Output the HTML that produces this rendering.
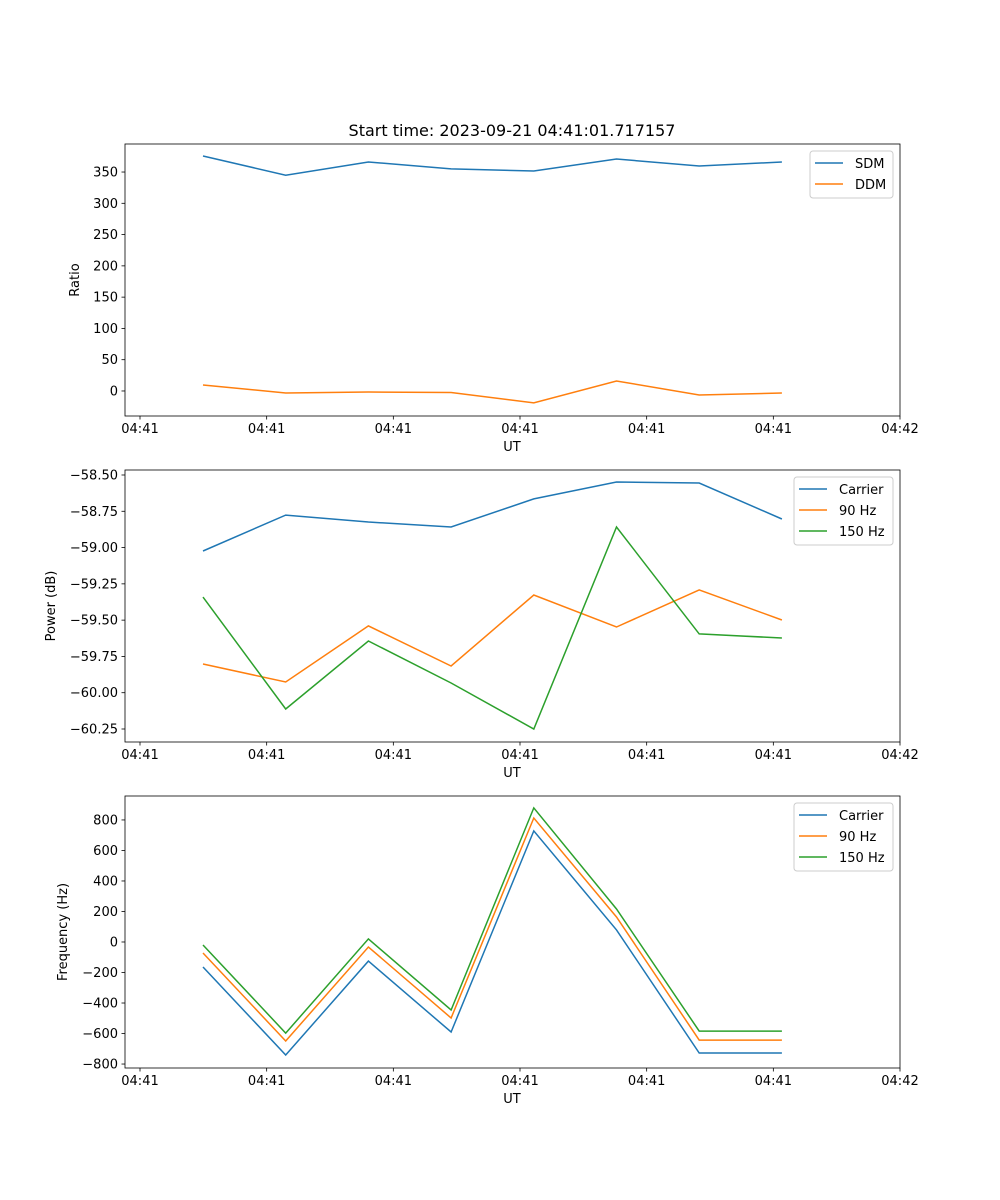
<!DOCTYPE html>
<html><head><meta charset="utf-8"><style>
body{margin:0;background:#fff}
svg{display:block;font-family:"DejaVu Sans","Liberation Sans",sans-serif}
</style></head><body>
<svg id="fig" width="1000" height="1200" xmlns="http://www.w3.org/2000/svg">
<rect width="1000" height="1200" fill="#fff"/>
<text x="512" y="136" font-size="16" text-anchor="middle">Start time: 2023-09-21 04:41:01.717157</text>
</svg>
<script>
// shared x data (seconds from tick origin)
const times=[4.97,11.5,18.03,24.56,31.09,37.62,44.15,50.68];
const xTickVals=[0,10,20,30,40,50,60];
const xTickLabels=["04:41","04:41","04:41","04:41","04:41","04:41","04:42"];
// panel 1
const sdm=[375.6,345,366,355,351.6,370.8,359.6,366];
const ddm=[9.6,-3.2,-1.6,-2.4,-19,16,-6.4,-3.2];
const ratioTicks=[0,50,100,150,200,250,300,350];
// panel 2
const pCarrier=[-59.024,-58.776,-58.824,-58.858,-58.665,-58.548,-58.555,-58.803];
const p90=[-59.802,-59.926,-59.54,-59.816,-59.327,-59.547,-59.292,-59.499];
const p150=[-59.341,-60.112,-59.644,-59.933,-60.25,-58.858,-59.595,-59.623];
const powerTicks=[-58.5,-58.75,-59,-59.25,-59.5,-59.75,-60,-60.25];
// panel 3
const fCarrier=[-164,-741,-125,-590,728,79,-728,-728];
const f90=[-72,-649,-33,-498,813,164,-643,-643];
const f150=[-20,-597,20,-446,879,216,-584,-584];
const freqTicks=[-800,-600,-400,-200,0,200,400,600,800];

const NS="http://www.w3.org/2000/svg";
const svg=document.getElementById('fig');
function mk(tag,attrs,parent){const e=document.createElementNS(NS,tag);for(const k in attrs)e.setAttribute(k,attrs[k]);(parent||svg).appendChild(e);return e;}
const L=125,R=900;
const xs=t=>140+t*(760/60);
const C=["#1f77b4","#ff7f0e","#2ca02c"];

function panel(name,top,bot,ymin,ymax,yticks,fmt,ylabel,series,labels,legend){
  const g=mk('g',{});
  
  
  const ys=v=>bot-(v-ymin)/(ymax-ymin)*(bot-top);
  series.forEach((s,i)=>{
    const pts=s.map((v,j)=>xs(times[j]).toFixed(1)+','+ys(v).toFixed(1)).join(' ');
    const pl=mk('polyline',{points:pts,fill:'none',stroke:C[i],'stroke-width':1.5},g);
    
    
  });
  const fr=mk('rect',{x:L,y:top,width:R-L,height:bot-top,fill:'none',stroke:'#000','stroke-width':0.8},g);
  
  
  xTickVals.forEach((t,i)=>{
    const x=xs(t);
    mk('line',{x1:x,x2:x,y1:bot,y2:bot+3.5,stroke:'#000','stroke-width':0.8},g);
    const tx=mk('text',{x:x,y:bot+17,'font-size':13,'text-anchor':'middle'},g);
    tx.textContent=xTickLabels[i];
    
    
  });
  yticks.forEach(v=>{
    const y=ys(v);
    mk('line',{x1:L,x2:L-3.5,y1:y,y2:y,stroke:'#000','stroke-width':0.8},g);
    const tx=mk('text',{x:L-7,y:y+4.5,'font-size':13,'text-anchor':'end'},g);
    tx.textContent=fmt(v);
    
    
  });
  const xl=mk('text',{x:512,y:bot+35,'font-size':13,'text-anchor':'middle'},g);
  xl.textContent='UT';
  
  
  const yl=mk('text',{x:0,y:0,'font-size':13,'text-anchor':'middle',transform:`translate(${legend.ylx},${(top+bot)/2}) rotate(-90)`},g);
  yl.textContent=ylabel;
  
  
  const lg=mk('g',{},g);
  
  
  mk('rect',{x:legend.x,y:top+7,width:893-legend.x,height:labels.length*21+5,rx:3,fill:'#fff',stroke:'#ccc','stroke-width':1},lg);
  labels.forEach((lab,i)=>{
    const y=top+19+i*21;
    mk('line',{x1:legend.x+5,x2:legend.x+33,y1:y,y2:y,stroke:C[i],'stroke-width':1.5},lg);
    const t=mk('text',{x:legend.x+45,y:y+5,'font-size':13},lg);
    t.textContent=lab;
    
    
  });
}
panel('ratio',144,416,-40,394.8,ratioTicks,v=>String(v),'Ratio',[sdm,ddm],['SDM','DDM'],{x:810,ylx:79});
panel('power',470,742,-60.3396,-58.4656,powerTicks,v=>(v<0?'\u2212':'')+Math.abs(v).toFixed(2),'Power (dB)',[pCarrier,p90,p150],['Carrier','90 Hz','150 Hz'],{x:794,ylx:55});
panel('frequency',796,1068,-826,957,freqTicks,v=>(v<0?'\u2212':'')+Math.abs(v),'Frequency (Hz)',[fCarrier,f90,f150],['Carrier','90 Hz','150 Hz'],{x:794,ylx:67});
</script>
</body></html>
